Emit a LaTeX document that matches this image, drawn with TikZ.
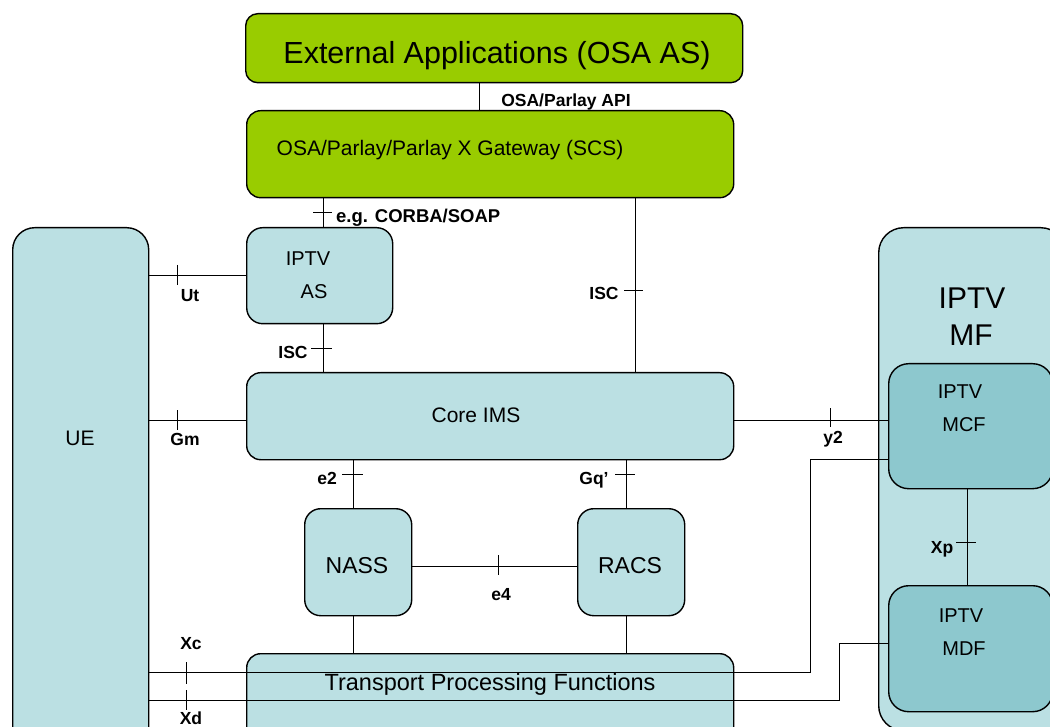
\documentclass[tikz,border=0pt]{standalone}
\usepackage{fontspec}
\setmainfont{Liberation Sans}
\definecolor{mygreen}{HTML}{99CC00}
\definecolor{lblue}{HTML}{BBE0E3}
\definecolor{dblue}{HTML}{8DC8CE}
\begin{document}
\begin{tikzpicture}[x=1pt,y=-1pt,
  box/.style={draw=black, line width=1.4pt, inner sep=0pt, anchor=north west, rounded corners=14pt},
  gbox/.style={box, fill=mygreen},
  bbox/.style={box, fill=lblue},
  dbox/.style={box, fill=dblue, rounded corners=20pt},
  conn/.style={draw=black, line width=0.9pt},
  txt/.style={inner sep=0pt, text depth=0pt, font=\fontsize{#1}{#1}\selectfont},
  lbl/.style={inner sep=0pt, text depth=0pt, font=\fontsize{17.5}{17.5}\selectfont\bfseries}
]
\useasboundingbox (0,0) rectangle (1050,727);
\fill[white] (0,0) rectangle (1050,727);
\clip (0,0) rectangle (1050,727);

% boxes
\node[gbox, rounded corners=12pt, minimum width=497, minimum height=69] (ea) at (245,13) {};
\node[gbox, minimum width=487, minimum height=87] (scs) at (246,110) {};
\node[bbox, rounded corners=22pt, minimum width=136, minimum height=530] (ue) at (12,227) {};
\node[bbox, rounded corners=16pt, minimum width=146, minimum height=96] (as) at (246,227) {};
\node[bbox, minimum width=487, minimum height=87] (core) at (246,372) {};
\node[bbox, rounded corners=16pt, minimum width=107, minimum height=107] (nass) at (304,508) {};
\node[bbox, rounded corners=16pt, minimum width=107, minimum height=107] (racs) at (577,508) {};
\node[bbox, minimum width=487, minimum height=120] (tpf) at (246,653) {};
\node[bbox, rounded corners=25pt, minimum width=187, minimum height=503] (mf) at (878,227) {};
\node[dbox, minimum width=164, minimum height=125] (mcf) at (888,363) {};
\node[dbox, minimum width=164, minimum height=126] (mdf) at (888,585) {};

% box texts
\node[txt=30.5] (tea) at (497,52) {External Applications (OSA AS)};
\node[txt=21] (tscs) at (450,148) {OSA/Parlay/Parlay X Gateway (SCS)};
\node[txt=20] (tas1) at (308,259) {IPTV};
\node[txt=20] (tas2) at (314,292) {AS};
\node[txt=21] (tue) at (80,438) {UE};
\node[txt=21] (tcore) at (476,415) {Core IMS};
\node[txt=23] (tnass) at (357,565) {NASS};
\node[txt=23] (tracs) at (630,565) {RACS};
\node[txt=30] (tmf1) at (972,298) {IPTV};
\node[txt=30] (tmf2) at (971,335) {MF};
\node[txt=20] (tmcf1) at (960,392) {IPTV};
\node[txt=20] (tmcf2) at (964,425) {MCF};
\node[txt=20] (tmdf1) at (961,616) {IPTV};
\node[txt=20] (tmdf2) at (964,649) {MDF};

% connectors
\draw[conn] (ea.south -| 479,0) -- (scs.north -| 479,0);
\draw[conn] (scs.south -| 323,0) -- (as.north -| 323,0);
\draw[conn] (313,212) -- (332,212);
\draw[conn] (scs.south -| 635,0) -- (core.north -| 635,0);
\draw[conn] (624,290) -- (643,290);
\draw[conn] (ue.east |- 0,275) -- (as.west |- 0,275);
\draw[conn] (177,265) -- (177,285);
\draw[conn] (as.south -| 323,0) -- (core.north -| 323,0);
\draw[conn] (311,348) -- (332,348);
\draw[conn] (ue.east |- 0,420) -- (core.west |- 0,420);
\draw[conn] (177,410) -- (177,430);
\draw[conn] (core.east |- 0,420) -- (mcf.west |- 0,420);
\draw[conn] (830,408) -- (830,427);
\draw[conn] (core.south -| 353,0) -- (nass.north -| 353,0);
\draw[conn] (342,474) -- (363,474);
\draw[conn] (core.south -| 626,0) -- (racs.north -| 626,0);
\draw[conn] (615,474) -- (635,474);
\draw[conn] (nass.east |- 0,566) -- (racs.west |- 0,566);
\draw[conn] (498,555) -- (498,575);
\draw[conn] (nass.south -| 353,0) -- (tpf.north -| 353,0);
\draw[conn] (racs.south -| 626,0) -- (tpf.north -| 626,0);
\draw[conn] (mcf.south -| 967,0) -- (mdf.north -| 967,0);
\draw[conn] (956,542) -- (976,542);
\coordinate (xcbend) at (810,672);
\coordinate (xdbend) at (839,700);
\draw[conn] (ue.east |- 0,672) -- (xcbend) |- (mcf.west |- 0,459);
\draw[conn] (ue.east |- 0,700) -- (xdbend) |- (mdf.west |- 0,643);
\draw[conn] (186,662) -- (186,684);
\draw[conn] (186,690) -- (186,710);

\node[txt=23.5] (ttpf) at (490,682) {Transport Processing Functions};

% labels
\node[lbl] (lapi) at (566,100) {OSA/Parlay API};
\node[lbl, anchor=west, font=\fontsize{18.5}{18.5}\selectfont\bfseries] (lcorba) at (336,216) {e.g. CORBA/SOAP};
\node[lbl] (lisc1) at (604,293) {ISC};
\node[lbl] (lut) at (190,295) {Ut};
\node[lbl] (lisc2) at (293,352) {ISC};
\node[lbl] (lgm) at (185,439) {Gm};
\node[lbl] (ly2) at (833,437) {y2};
\node[lbl] (le2) at (327,478) {e2};
\node[lbl] (lgq) at (594,478) {Gq’};
\node[lbl] (le4) at (501,594) {e4};
\node[lbl] (lxp) at (942,547) {Xp};
\node[lbl] (lxc) at (191,643) {Xc};
\node[lbl] (lxd) at (191,718) {Xd};
\end{tikzpicture}
\end{document}
